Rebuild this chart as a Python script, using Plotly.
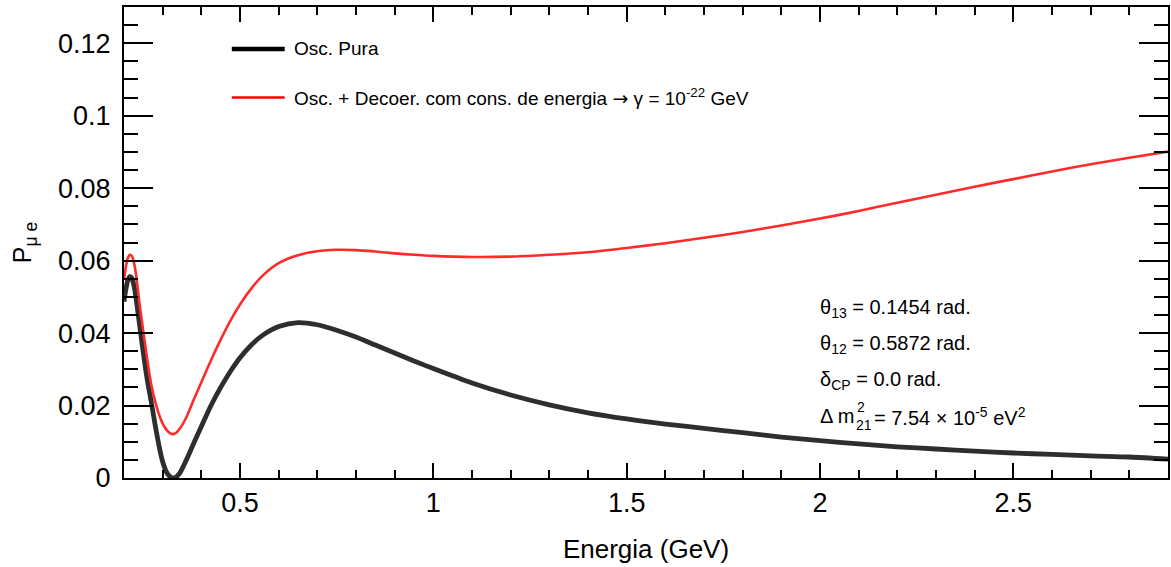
import plotly.graph_objects as go

# Energy grid (GeV) and oscillation probabilities P(mu -> e)
energia = [0.200, 0.205, 0.210, 0.215, 0.220, 0.225, 0.230, 0.240, 0.250, 0.260,
           0.270, 0.280, 0.290, 0.300, 0.310, 0.320, 0.327, 0.335, 0.345, 0.360,
           0.380, 0.400, 0.425, 0.450, 0.475, 0.500, 0.530, 0.560, 0.600, 0.650,
           0.700, 0.750, 0.800, 0.850, 0.900, 0.950, 1.000, 1.100, 1.200, 1.300,
           1.400, 1.500, 1.600, 1.700, 1.800, 1.900, 2.000, 2.100, 2.200, 2.300,
           2.400, 2.500, 2.600, 2.700, 2.800, 2.900]

p_osc_pura = [0.0487, 0.0522, 0.0546, 0.0556, 0.0552, 0.0535, 0.0505, 0.0425, 0.0345, 0.0272,
              0.0213, 0.0150, 0.0092, 0.0045, 0.0016, 0.0003, 0.0000, 0.0003, 0.0015, 0.0047,
              0.0095, 0.0142, 0.0200, 0.0250, 0.0294, 0.0332, 0.0368, 0.0395, 0.0418, 0.0429,
              0.0423, 0.0408, 0.0389, 0.0367, 0.0345, 0.0323, 0.0302, 0.0262, 0.0229, 0.0202,
              0.0180, 0.0163, 0.0149, 0.0137, 0.0125, 0.0113, 0.0103, 0.0094, 0.0086, 0.0080,
              0.0074, 0.0069, 0.0065, 0.0061, 0.0058, 0.0052]

p_decoer = [0.0547, 0.0584, 0.0607, 0.0616, 0.0613, 0.0598, 0.0570, 0.0482, 0.0404, 0.0328,
            0.0260, 0.0214, 0.0177, 0.0150, 0.0133, 0.0123, 0.0121, 0.0125, 0.0137, 0.0165,
            0.0215, 0.0264, 0.0325, 0.0382, 0.0434, 0.0479, 0.0524, 0.0560, 0.0593, 0.0615,
            0.0626, 0.0630, 0.0629, 0.0625, 0.0620, 0.0616, 0.0613, 0.0610, 0.0611, 0.0616,
            0.0623, 0.0635, 0.0648, 0.0663, 0.0679, 0.0697, 0.0716, 0.0737, 0.0760, 0.0782,
            0.0804, 0.0825, 0.0846, 0.0866, 0.0884, 0.0901]

legenda = ["Osc. Pura",
           "Osc. + Decoer. com cons. de energia "
           "<span style=\"font-family:DejaVu Sans\">\u2192</span> "
           "\u03b3 = 10<sup>-22</sup> GeV"]

W, H = 1171, 567
L, R, T, B = 124, 1170, 7, 478  # frame edges in pixels
FONT = "Liberation Sans, Arial, Helvetica, sans-serif"


def px(xp):
    return (xp - L) / (R - L)


def py(yp):
    return (B - yp) / (B - T)


fig = go.Figure()
fig.add_trace(go.Scatter(x=energia, y=p_osc_pura, mode="lines",
                         line=dict(color="#2e2e2e", width=4.8, shape="spline", smoothing=0.8),
                         showlegend=False))
fig.add_trace(go.Scatter(x=energia, y=p_decoer, mode="lines",
                         line=dict(color="#ff2a2a", width=2.6, shape="spline", smoothing=0.8),
                         showlegend=False))

axis_common = dict(showline=True, linewidth=2, linecolor="black", mirror="ticks",
                   ticks="inside", tickcolor="black", tickwidth=1.5,
                   showgrid=False, zeroline=False,
                   tickfont=dict(family=FONT, size=27, color="black"))

fig.update_xaxes(range=[0.2, 2.9], tick0=0, dtick=0.5, ticklen=15,
                 minor=dict(tick0=0, dtick=0.1, ticks="inside", ticklen=8,
                            tickwidth=1.5, tickcolor="black"),
                 title=dict(text="Energia (GeV)", standoff=22,
                            font=dict(family=FONT, size=26, color="black")),
                 **axis_common)
fig.update_yaxes(range=[0, 0.13], tick0=0, dtick=0.02, ticklen=29,
                 ticklabelstandoff=6,
                 minor=dict(tick0=0, dtick=0.005, ticks="inside", ticklen=14,
                            tickwidth=1.5, tickcolor="black"),
                 title=dict(text="P<sub>\u03bc e</sub>", standoff=19,
                            font=dict(family=FONT, size=25, color="black")),
                 **axis_common)

# Legend drawn as line samples + labels
leg_colors = ["black", "#ff0000"]
leg_widths = [4.5, 2.5]
leg_y = [49, 97.5]
for txt, col, lw, yy in zip(legenda, leg_colors, leg_widths, leg_y):
    fig.add_shape(type="line", xref="paper", yref="paper",
                  x0=px(232), x1=px(285), y0=py(yy), y1=py(yy),
                  line=dict(color=col, width=lw))
    fig.add_annotation(x=px(292), y=py(yy), xref="paper", yref="paper",
                       text=txt, showarrow=False, xanchor="left", yanchor="middle",
                       font=dict(family=FONT, size=19, color="black"))

# Parameter block
params = ["\u03b8<sub>13</sub> = 0.1454 rad.",
          "\u03b8<sub>12</sub> = 0.5872 rad.",
          "\u03b4<sub>CP</sub> = 0.0 rad."]
param_y = [308, 344, 380]
for txt, yy in zip(params, param_y):
    fig.add_annotation(x=px(819), y=py(yy), xref="paper", yref="paper",
                       text=txt, showarrow=False, xanchor="left", yanchor="middle",
                       font=dict(family=FONT, size=20, color="black"))

# Delta m^2_21 line, with stacked super/subscript
fig.add_annotation(x=px(819), y=py(416), xref="paper", yref="paper",
                   text="\u0394 m", showarrow=False, xanchor="left", yanchor="middle",
                   font=dict(family=FONT, size=20, color="black"))
fig.add_annotation(x=px(856), y=py(407), xref="paper", yref="paper",
                   text="2", showarrow=False, xanchor="left", yanchor="middle",
                   font=dict(family=FONT, size=14, color="black"))
fig.add_annotation(x=px(855), y=py(425), xref="paper", yref="paper",
                   text="21", showarrow=False, xanchor="left", yanchor="middle",
                   font=dict(family=FONT, size=14, color="black"))
fig.add_annotation(x=px(873), y=py(416), xref="paper", yref="paper",
                   text="= 7.54 \u00d7 10<sup>-5</sup> eV<sup>2</sup>", showarrow=False,
                   xanchor="left", yanchor="middle",
                   font=dict(family=FONT, size=20, color="black"))

fig.update_layout(width=W, height=H,
                  margin=dict(l=L, r=W - R, t=T, b=H - B, pad=0),
                  plot_bgcolor="white", paper_bgcolor="white",
                  showlegend=False)

fig.write_html("out.html")
